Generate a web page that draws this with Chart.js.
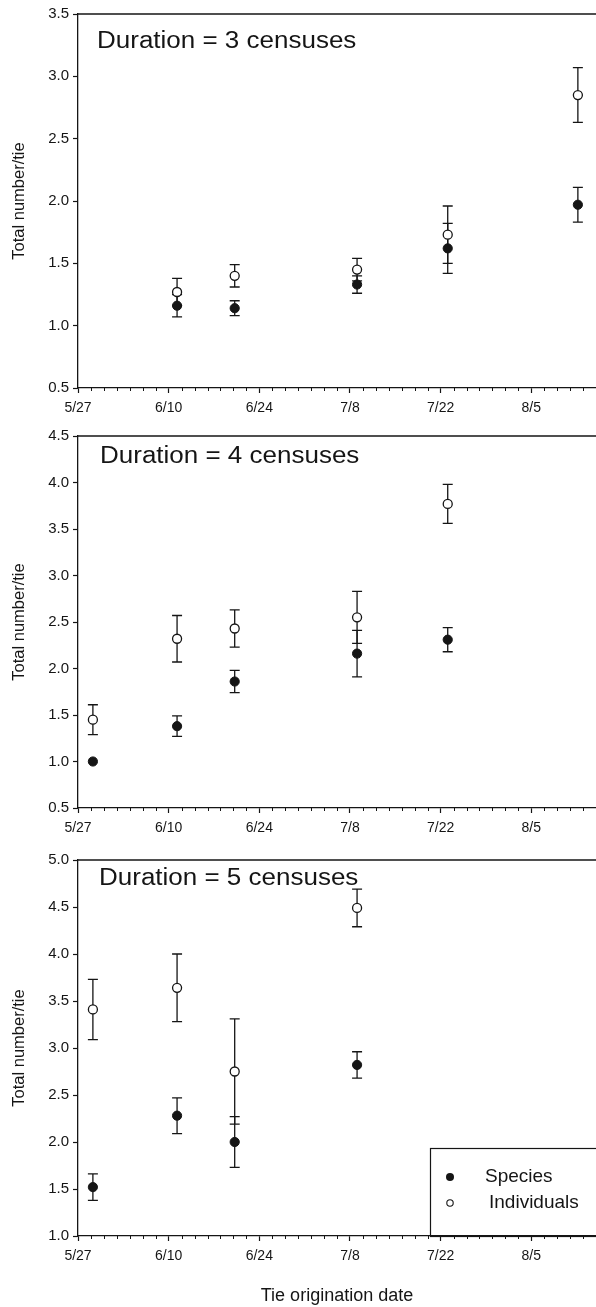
<!DOCTYPE html>
<html>
<head>
<meta charset="utf-8">
<script src="https://cdn.jsdelivr.net/npm/chart.js@4.4.1/dist/chart.umd.min.js"></script>
<style>
  html, body { margin:0; padding:0; background:#fff; }
  canvas { display:block; }
</style>
</head>
<body>
<canvas id="c1" width="596" height="420"></canvas>
<canvas id="c2" width="596" height="425"></canvas>
<canvas id="c3" width="596" height="462"></canvas>
<script>
// x values are days after 5/27
const dateLabels = ["5/27", "6/10", "6/24", "7/8", "7/22", "8/5"];

// Duration = 3 censuses
const days3 = [15.3, 24.2, 43.1, 57.1, 77.2];
const species3 = [1.16, 1.14, 1.33, 1.62, 1.97];
const species3Err = [0.09, 0.06, 0.07, 0.20, 0.14];
const indiv3 = [1.27, 1.40, 1.45, 1.73, 2.85];
const indiv3Err = [0.11, 0.09, 0.09, 0.23, 0.22];

// Duration = 4 censuses
const days4 = [2.3, 15.3, 24.2, 43.1, 57.1];
const species4 = [1.00, 1.38, 1.86, 2.16, 2.31];
const species4Err = [0, 0.11, 0.12, 0.25, 0.13];
const indiv4 = [1.45, 2.32, 2.43, 2.55, 3.77];
const indiv4Err = [0.16, 0.25, 0.20, 0.28, 0.21];

// Duration = 5 censuses
const days5 = [2.3, 15.3, 24.2, 43.1];
const species5 = [1.52, 2.28, 2.00, 2.82];
const species5Err = [0.14, 0.19, 0.27, 0.14];
const indiv5 = [3.41, 3.64, 2.75, 4.49];
const indiv5Err = [0.32, 0.36, 0.56, 0.20];

const FONT = "'Liberation Sans', Arial, sans-serif";
const INK = "#151515";

function pts(xs, ys){ return xs.map((x,i)=>({x:x, y:ys[i]})); }

const extras = {
  id: "extras",
  beforeDatasetsDraw(chart){
    const ctx = chart.ctx, xs = chart.scales.x, ys = chart.scales.y;
    ctx.save();
    ctx.strokeStyle = INK; ctx.lineWidth = 1.3;
    chart.data.datasets.forEach(ds => {
      ds.data.forEach((p,j) => {
        const e = ds.errors[j];
        if(!e) return;
        const x = xs.getPixelForValue(p.x);
        const y1 = ys.getPixelForValue(p.y + e), y2 = ys.getPixelForValue(p.y - e);
        ctx.beginPath();
        ctx.moveTo(x, y1); ctx.lineTo(x, y2);
        ctx.moveTo(x-5, y1); ctx.lineTo(x+5, y1);
        ctx.moveTo(x-5, y2); ctx.lineTo(x+5, y2);
        ctx.stroke();
      });
    });
    ctx.restore();
  },
  afterDraw(chart, args, opts){
    const ctx = chart.ctx, a = chart.chartArea, xs = chart.scales.x;
    ctx.save();
    // top frame line
    ctx.strokeStyle = INK; ctx.lineWidth = 1.4;
    ctx.beginPath(); ctx.moveTo(a.left, a.top); ctx.lineTo(a.right, a.top); ctx.stroke();
    // minor ticks every 2 days
    ctx.lineWidth = 1;
    ctx.beginPath();
    for(let d = 2; d < xs.max; d += 2){
      if(d % 14 === 0) continue;
      const x = Math.round(xs.getPixelForValue(d)) + 0.5;
      ctx.moveTo(x, a.bottom); ctx.lineTo(x, a.bottom + 3);
    }
    ctx.stroke();
    // panel label
    ctx.fillStyle = INK;
    ctx.font = "23px " + FONT;
    ctx.textBaseline = "alphabetic";
    ctx.translate(a.left + opts.dx, a.top + opts.dy);
    ctx.scale(1.13, 1);
    ctx.fillText(opts.label, 0, 0);
    ctx.restore();

    if(opts.legend){
      ctx.save();
      const L = a.right - 166, T = a.bottom - 88;
      ctx.strokeStyle = INK; ctx.lineWidth = 1.2;
      ctx.strokeRect(L + 0.5, T + 0.5, a.right - L + 10, a.bottom - T);
      ctx.fillStyle = INK;
      ctx.beginPath(); ctx.arc(L + 20, T + 29, 4, 0, Math.PI*2); ctx.fill();
      ctx.fillStyle = "#fff"; ctx.lineWidth = 1.1;
      ctx.beginPath(); ctx.arc(L + 20, T + 55, 3.2, 0, Math.PI*2); ctx.fill(); ctx.stroke();
      ctx.fillStyle = INK;
      ctx.font = "19px " + FONT;
      ctx.textBaseline = "middle";
      ctx.fillText("Species", L + 55, T + 29);
      ctx.fillText("Individuals", L + 59, T + 55);
      ctx.restore();
    }
  }
};

function makePanel(id, cfg){
  return new Chart(document.getElementById(id), {
    type: "scatter",
    data: {
      datasets: [
        { label:"Individuals", data: pts(cfg.days, cfg.indiv), errors: cfg.indivErr,
          pointRadius:4.5, pointBackgroundColor:"#fff", pointBorderColor:INK, pointBorderWidth:1.3 },
        { label:"Species", data: pts(cfg.days, cfg.species), errors: cfg.speciesErr,
          pointRadius:4.6, pointBackgroundColor:INK, pointBorderColor:INK, pointBorderWidth:1 },
      ]
    },
    options: {
      responsive:false, animation:false, devicePixelRatio:1,
      layout: { autoPadding:false, padding: { left:10, top:cfg.top, right:0, bottom:0 } },
      scales: {
        x: {
          type:"linear", min:0, max:80,
          afterFit: s => { s.height = cfg.xh; s.paddingRight = 0; s.paddingLeft = 0; },
          grid: { drawOnChartArea:false, tickLength:5, color:INK, tickWidth:1.2 },
          border: { display:true, color:INK, width:1.3 },
          ticks: { stepSize:14, includeBounds:false, autoSkip:false, maxRotation:0, padding:7,
            color:INK, font:{ family:FONT, size:14 },
            callback: v => dateLabels[v/14] ?? "" },
          title: { display: !!cfg.xTitle, text: cfg.xTitle || "", color:INK,
            font:{ family:FONT, size:18 }, padding:{ top:0, bottom:0 } }
        },
        y: {
          min:cfg.ymin, max:cfg.ymax,
          afterFit: s => { s.width = 68; },
          grid: { drawOnChartArea:false, tickLength:5, color:INK, tickWidth:1.2 },
          border: { display:true, color:INK, width:1.3 },
          ticks: { stepSize:0.5, padding:4, color:INK, font:{ family:FONT, size:15 },
            callback: v => Number(v).toFixed(1) },
          title: { display:true, text:"Total number/tie", color:INK,
            font:{ family:FONT, size:16.5 }, padding:{ top:0, bottom:0 } }
        }
      },
      plugins: {
        legend:{ display:false }, tooltip:{ enabled:false },
        extras: { label:cfg.label, dx:cfg.dx, dy:cfg.dy, legend:!!cfg.legend }
      }
    },
    plugins: [extras]
  });
}

makePanel("c1", { days:days3, species:species3, speciesErr:species3Err, indiv:indiv3, indivErr:indiv3Err,
  ymin:0.5, ymax:3.5, top:14, xh:32, label:"Duration = 3 censuses", dx:19, dy:34 });
makePanel("c2", { days:days4, species:species4, speciesErr:species4Err, indiv:indiv4, indivErr:indiv4Err,
  ymin:0.5, ymax:4.5, top:16, xh:37, label:"Duration = 4 censuses", dx:22, dy:27 });
makePanel("c3", { days:days5, species:species5, speciesErr:species5Err, indiv:indiv5, indivErr:indiv5Err,
  ymin:1.0, ymax:5.0, top:15, xh:71, label:"Duration = 5 censuses", dx:21, dy:25,
  legend:true, xTitle:"Tie origination date" });
</script>
</body>
</html>
